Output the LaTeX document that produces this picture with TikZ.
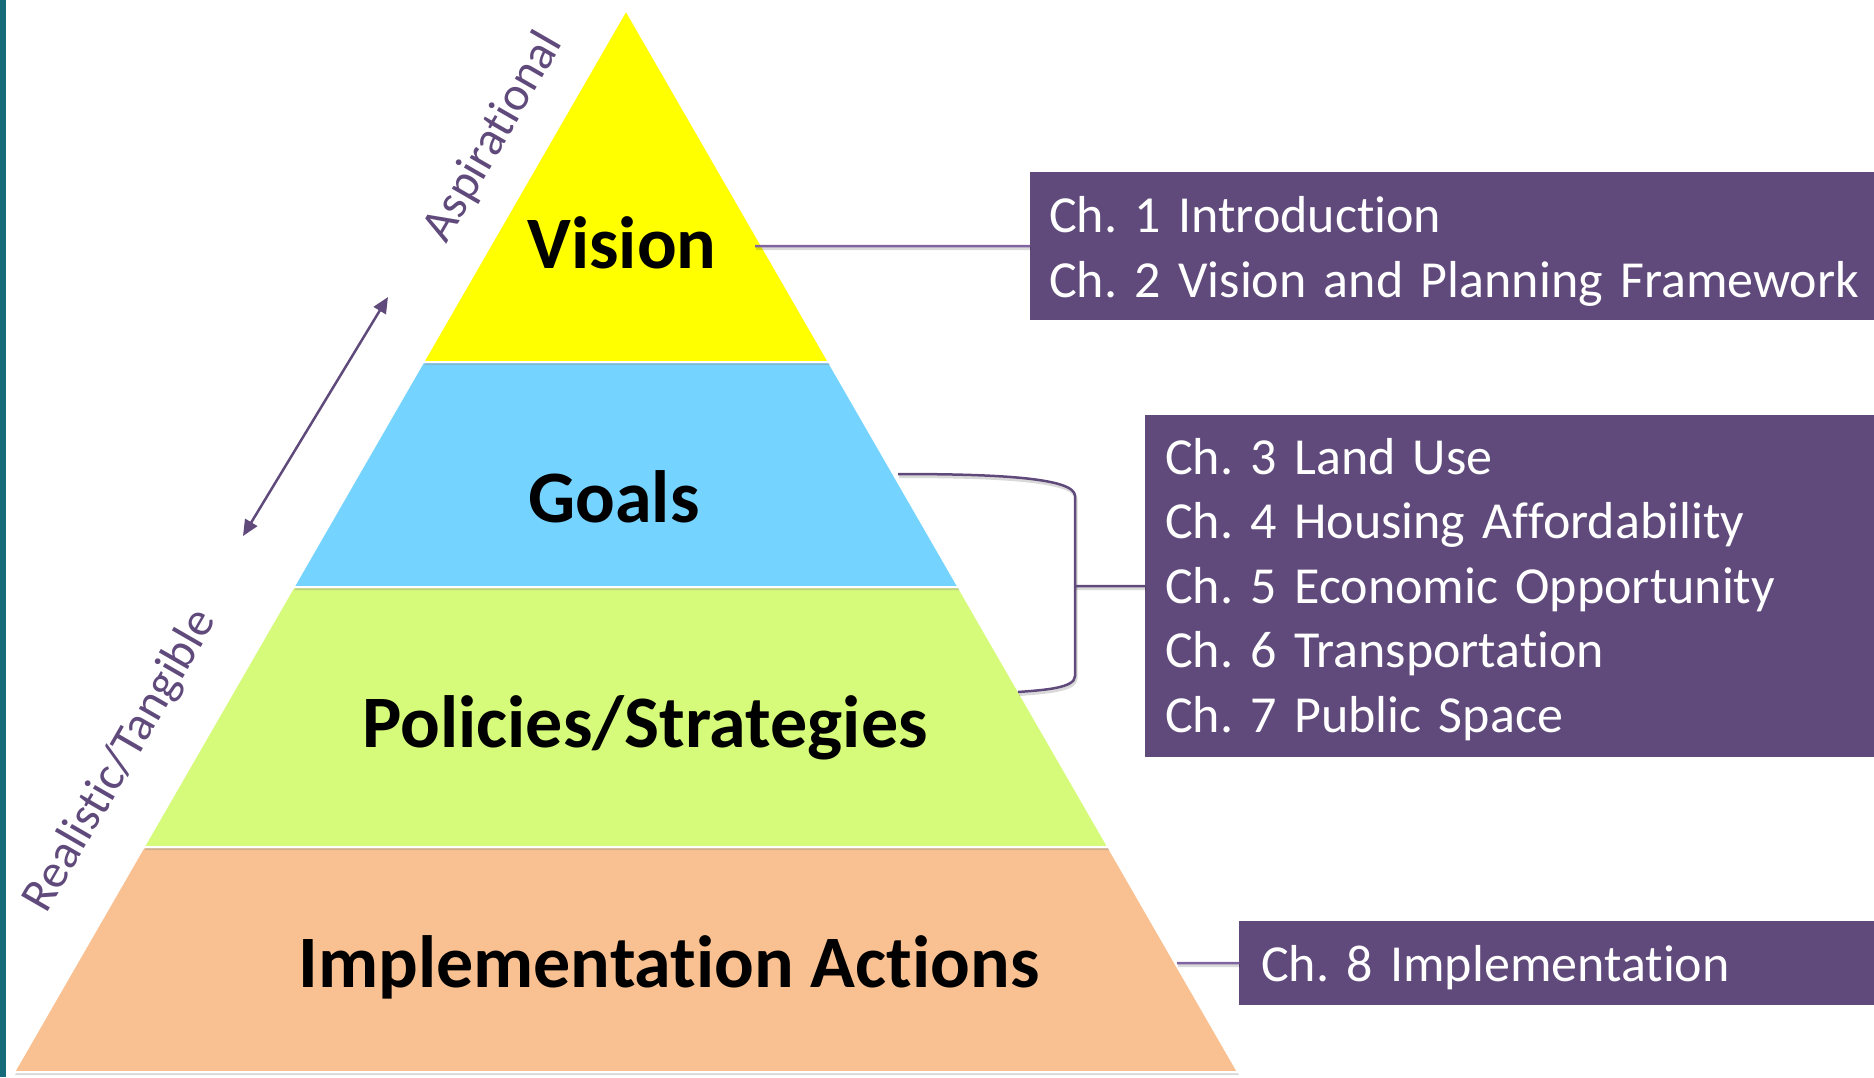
\documentclass[tikz,border=0pt]{standalone}
\usepackage{fontspec}
\setmainfont{Carlito}[Ligatures={NoCommon}]
\usepackage{tikz}
\usetikzlibrary{shadows,arrows.meta}
\definecolor{vision}{HTML}{FFFF00}
\definecolor{goals}{HTML}{75D4FF}
\definecolor{policy}{HTML}{D6FA79}
\definecolor{impl}{HTML}{F9C191}
\definecolor{plum}{HTML}{604A7B}
\definecolor{lilac}{HTML}{8064A2}
\definecolor{edge}{HTML}{156B7A}
\frenchspacing

\begin{document}
\begin{tikzpicture}[
x=1pt, y=-1pt,
band/.style={
	draw=white, line width=2pt,
	drop shadow={shadow xshift=1pt, shadow yshift=-3pt, opacity=.3}
},
level/.style={font=\fontsize{74}{80}\selectfont\bfseries, anchor=base},
side/.style={font=\fontsize{48}{54}\selectfont, text=plum, rotate=60},
chbox/.style={
	fill=plum, text=white, anchor=north west,
	font=\fontsize{52}{64.5}\selectfont, align=left,
	text width=900pt, inner ysep=0pt
},
link/.style={
	line width=2.5pt,
	preaction={draw=black, opacity=.15, line width=3pt,
		transform canvas={shift={(1pt,-2.5pt)}}}
}
]
\useasboundingbox (0,0) rectangle (1874,1077);
\fill[edge] (0,0) rectangle (6,1077);

% pyramid, bottom band first so the shadows fall on the one below
\foreach \ya/\yb/\c in {847/1072/impl, 587/847/policy, 362/587/goals, 10/362/vision}
{
	\pgfmathsetmacro\xa{0.5763*(\ya-10)}
	\pgfmathsetmacro\xb{0.5763*(\yb-10)}
	\path[band, fill=\c] ({626-\xa},\ya) -- ({626+\xa},\ya) -- ({626+\xb},\yb) -- ({626-\xb},\yb) -- cycle;
}
\node[level] (vis) at (622,268) {Vision};
\node[level] (goa) at (614,522) {Goals};
\node[level] (pol) at (645,747) {Policies/Strategies};
\node[level] (imp) at (669,987) {Implementation Actions};

\node[side] (asp) at (494,137) {Aspirational};
\node[side] (real) at (121,761) {Realistic/Tangible};
\coordinate (aT) at (388,297);
\coordinate (aB) at (243,536);
\draw[plum, line width=2.5pt, {Triangle[length=16pt,width=14pt]}-{Triangle[length=16pt,width=14pt]}] (aB) -- (aT);

% chapter boxes, cut by the right edge of the page
\node[chbox, minimum height=148pt, inner xsep=19pt] (ch12) at (1030,172)
	{Ch. 1 Introduction\\Ch. 2 Vision and Planning Framework\par\vspace{-10pt}};
\node[chbox, minimum height=342pt, inner xsep=20pt] (ch37) at (1145,415)
	{Ch. 3 Land Use\\Ch. 4 Housing Affordability\\Ch. 5 Economic Opportunity\\Ch. 6 Transportation\\Ch. 7 Public Space\par\vspace{-6pt}};
\node[chbox, minimum height=84pt, inner xsep=22pt] (ch8) at (1239,921)
	{Ch. 8 Implementation\par\vspace{-10pt}};

% connectors
\coordinate (visR) at (755,246);
\draw[link, lilac] (visR) -- (ch12.west);
\coordinate (goaR) at (898,474);
\coordinate (polR) at (1018,692);
\coordinate (brk) at (1075,586);
\draw[link, plum] (goaR) .. controls (1000,474) and (1075,478) .. (1075,496) -- (1075,676) .. controls (1075,688) and (1045,690) .. (polR);
\draw[link, plum] (brk) -- (ch37.west);
\coordinate (impR) at (1177,963);
\draw[link, lilac] (impR) -- (ch8.west);
\end{tikzpicture}
\end{document}
